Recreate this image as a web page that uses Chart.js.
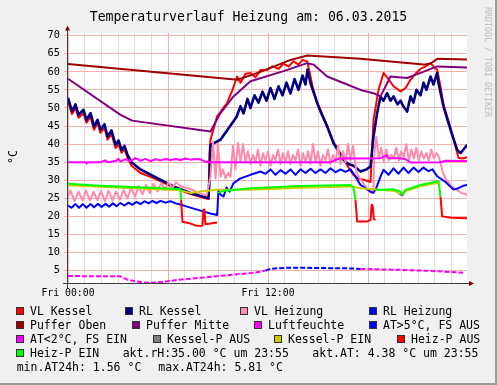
<!DOCTYPE html>
<html><head><meta charset="utf-8">
<script src="https://cdn.jsdelivr.net/npm/chart.js@4/dist/chart.umd.min.js"></script>
<style>
html,body{margin:0;padding:0;background:#F0F0F0;}
#wrap{position:relative;width:497px;height:385px;overflow:hidden;}
#c{position:absolute;left:0;top:0;}
.t{position:absolute;font-family:'DejaVu Sans Mono',monospace;white-space:pre;color:#000;}
.sw{position:absolute;width:8px;height:8px;box-sizing:border-box;border:1px solid #333;}
</style></head>
<body><div id="wrap"><canvas id="c" width="497" height="385" style="width:497px;height:385px"></canvas></div>
<script>
// ---------------- data ----------------
const titleText = 'Temperaturverlauf Heizung am: 06.03.2015';
const yAxisTitle = '°C';
const watermark = 'RRDTOOL / TOBI OETIKER';
const xTickHours = [0, 12];
const xTickLabels = ['Fri 00:00', 'Fri 12:00'];
const yTickValues = [5,10,15,20,25,30,35,40,45,50,55,60,65,70];

const vlKesselT = [0,0.24,0.45,0.63,0.93,1.11,1.35,1.56,1.77,1.95,2.19,2.37,2.61,2.85,3.03,3.21,3.39,3.57,3.81,4.35,5.13,6.33,7.35,8.25,8.43,8.49,8.55,8.95,9.55,9.87,10.15,10.35,10.65,10.95,11.25,11.55,11.95,12.27,12.63,12.93,13.23,13.53,13.83,14.07,14.35,14.49,14.67,14.95,15.15,15.55,15.93,16.23,16.53,16.83,17.13,17.43,17.85,18.15,18.33,18.63,18.93,19.23,19.53,19.95,20.25,20.55,20.85,21.15,21.45,21.75,21.93,22.15,22.35,22.53,22.95,23.43,23.67,23.95];
const vlKesselV = [51.8,48.3,50.0,47.3,48.5,45.9,47.6,44.0,45.8,43.1,44.5,41.2,42.8,38.9,40.0,37.6,38.6,36.2,34.0,32.0,30.6,28.0,26.2,25.0,24.8,38.0,41.2,47.7,51.4,55.0,58.7,57.0,59.5,59.7,58.5,60.5,60.6,61.5,60.8,62.3,61.5,62.9,62.0,63.3,62.9,60.0,56.0,51.4,49.5,45.0,40.5,38.3,36.0,33.5,31.5,30.5,30.0,29.5,46.7,55.0,59.7,58.0,56.0,54.6,55.5,57.8,59.5,60.8,61.5,62.4,61.5,60.6,56.0,51.0,44.5,36.2,36.0,36.4];

const rlKesselT = [0,0.24,0.45,0.63,0.93,1.11,1.35,1.56,1.77,1.95,2.19,2.37,2.61,2.85,3.03,3.21,3.39,3.57,3.81,4.35,5.13,6.33,7.35,8.43,8.49,8.55,9.15,9.93,10.11,10.35,10.53,10.77,10.95,11.19,11.43,11.67,11.91,12.15,12.39,12.63,12.87,13.11,13.35,13.59,13.83,14.07,14.25,14.37,14.55,14.95,15.15,15.55,15.93,16.23,16.53,16.83,17.13,17.55,17.91,18.15,18.33,18.55,18.75,18.93,19.15,19.35,19.53,19.77,19.95,20.13,20.35,20.55,20.73,20.91,21.15,21.33,21.51,21.75,21.93,22.15,22.23,22.53,22.95,23.35,23.55,23.73,23.95];
const rlKesselV = [52.8,49.1,51.0,48.1,49.5,46.7,48.6,44.9,46.7,44.0,45.5,42.1,43.8,39.8,41.0,38.4,39.5,37.0,35.0,33.0,31.1,28.3,26.5,25.0,30.1,39.8,41.2,46.3,47.5,50.5,48.5,52.5,50.0,53.5,51.5,54.5,52.0,55.5,52.5,56.0,53.5,57.0,54.0,58.0,55.0,59.0,56.5,60.6,56.9,51.4,49.0,44.9,40.3,38.0,35.7,34.5,34.0,32.4,33.0,33.8,42.1,48.6,53.2,52.0,54.1,52.0,53.2,51.0,52.0,50.4,49.0,53.2,51.5,55.0,53.5,57.0,55.0,58.7,56.5,59.7,56.9,50.4,44.0,38.4,37.5,38.5,39.8];

const vlHeizungT = [0,0.15,0.39,0.63,0.87,1.08,1.32,1.53,1.77,1.98,2.22,2.43,2.67,2.88,3.12,3.33,3.57,3.78,4.02,4.23,4.47,4.68,4.92,5.13,5.37,5.58,5.82,6.03,6.27,6.48,6.75,7.35,7.95,8.31,
 8.55,8.7,8.85,9.0,9.15,9.3,9.45,9.6,9.75,9.9,10.05,10.2,10.35,10.5,10.65,10.8,10.95,11.1,11.25,11.4,11.55,11.7,11.85,12.0,12.15,12.3,12.45,12.6,12.75,12.9,13.05,13.2,13.35,13.5,13.65,13.8,13.95,14.1,14.25,14.4,14.55,14.7,14.85,15.0,15.15,15.3,15.45,15.6,15.75,15.9,16.05,16.2,16.35,16.5,16.65,16.8,16.95,17.1,
 17.31,17.67,17.97,18.21,18.33,18.39,
 18.5,18.65,18.8,18.95,19.1,19.25,19.4,19.55,19.7,19.85,20.0,20.15,20.3,20.45,20.6,20.75,20.9,21.05,21.2,21.35,21.5,21.65,21.8,21.95,22.1,22.25,22.5,22.7,23.0,23.3,23.6,23.95];
const vlHeizungV = [25.5,27.1,24.2,26.9,24.4,27.2,24.3,26.8,24.5,27.0,24.2,27.1,24.4,26.9,24.6,27.3,25.0,27.9,25.4,28.4,26.1,28.7,26.4,29.1,26.9,29.2,27.4,29.5,27.9,29.4,28.4,27.5,26.3,25.8,
 31,40.5,30.5,40,31,33,30.5,32,31,39.5,33,40.3,35,40,35,38,34.5,37,35,38.5,34,37.5,35.5,38,34,37,35.5,38.5,34.5,37.5,35,38,34.5,37,35.5,38.5,34,37.5,35,38,34.5,40,35,38,34,37,35.5,38.5,34.5,37,35,39.5,34.5,38,35,40,35.5,39.5,
 32,29.5,27.5,26.5,28,38,
 42,36,39,35,38.5,35.5,37,36,39,35.5,38,36.5,40,35.5,38.5,36,39,35.5,38,36,37.5,35.5,38.5,36,37.5,36.6,32,30.1,28.5,27.4,26.5,26.0];

const rlHeizungT = [0,0.21,0.45,0.66,0.9,1.11,1.35,1.56,1.8,2.01,2.25,2.46,2.7,2.91,3.15,3.39,3.63,3.87,4.11,4.35,4.59,4.83,5.07,5.31,5.55,5.85,6.15,6.45,6.75,7.15,7.95,8.55,8.95,9.03,9.15,9.33,9.51,9.69,9.93,10.35,10.95,11.55,11.85,12.15,12.45,12.75,13.05,13.35,13.65,13.95,14.25,14.55,14.85,15.15,15.45,15.75,16.05,16.35,16.65,16.95,17.25,17.55,17.85,18.15,18.33,18.51,18.75,18.93,19.23,19.53,19.83,20.13,20.43,20.73,21.03,21.33,21.63,21.87,22.15,22.65,23.13,23.43,23.73,23.95];
const rlHeizungV = [23,22.4,23.4,22.4,23.4,22.4,23.4,22.5,23.5,22.6,23.5,22.7,23.6,22.8,23.7,23.0,23.8,23.2,24.0,23.4,24.2,23.6,24.3,23.7,24.3,23.8,24.2,23.6,23.3,22.7,21.6,20.8,20.4,27.4,26,25.5,28,26.8,29.2,30.5,31.5,32.4,31.8,33,31.5,32.8,31.8,33,31.5,33,32,33.2,32,33,32,33.3,32.2,33,32.3,33,31,28.7,27.8,26.8,26.5,28,31,32.9,31.5,33.3,31.8,33.5,32,33.5,32.3,33.5,32.5,33,31.1,29.5,27.4,27.8,28.5,28.7];

const pufferObenT = [0,10.17,11.55,13.35,14.37,17.55,21.33,21.75,22.17,23.95];
const pufferObenV = [62.2,57.8,60.0,63.3,64.5,63.6,62.0,62.3,63.6,63.4];

const pufferMitteT = [0,3.15,3.85,8.55,9.15,9.93,10.95,12.93,14.35,14.73,15.55,16.53,17.55,18.33,18.75,19.35,20.35,21.15,22.15,23.95];
const pufferMitteV = [58.1,48.1,46.5,43.5,48.6,53.2,57.4,60.2,62.4,62.0,58.7,56.9,55.0,54.1,53.2,58.7,58.3,59.7,61.5,61.2];

const luftT = [0,1.05,1.11,1.17,1.95,2.25,2.37,2.85,3.03,3.15,3.45,3.75,4.05,4.35,4.65,4.95,5.25,5.55,5.85,6.15,6.45,6.75,7.05,7.35,7.65,7.95,8.25,8.55,15.75,16.05,16.35,17.55,18.75,19.11,19.23,19.95,20.25,20.55,22.35,22.65,23.95];
const luftV = [35,35,34.6,35,35,35.5,35,35.3,35.9,35.2,35.8,35.3,36.1,35.4,35.9,35.3,35.8,35.5,35.9,35.6,35.9,35.6,36.0,35.7,35.9,35.8,35.1,35.0,35.0,35.6,36.1,36.0,36.1,36.9,36.1,36.1,35.8,34.9,35.0,35.4,35.3];

const atHighT = [11.85,12.15,13.05,13.95,15.15,16.95,17.55];
const atHighV = [5.0,5.5,5.75,5.8,5.7,5.6,5.45];
const atLowT = [0,1.95,3.15,3.55,4.05,4.75,5.55,6.55,7.95,9.75,10.95,11.55,11.85,14.0,17.55,19.95,21.75,23.7];
const atLowV = [3.5,3.4,3.4,2.5,2.0,1.6,1.8,2.4,3.0,3.8,4.3,4.7,5.0,null,5.45,5.2,4.9,4.4];

const kesselAusT = [19.89,19.95,20.07,20.13];
const kesselAusV = [26.3,26.0,25.8,26.2];
const kesselEinT = [0,1.95,4.95,6.75,7.35,7.95,8.95,10.95,13.95,16.95,17.55,18.75,19.65,19.89,19.95,20.13,20.25,21.15,22.05,22.23];
const kesselEinV = [28.6,28.2,27.6,27.2,26.5,26.9,27.4,27.4,27.9,28.3,27.8,27.4,27.0,26.3,null,26.2,27.0,28.3,29.2,29.2];

const heizAusT = [6.78,6.87,7.35,7.65,7.95,8.07,8.13,8.19,8.25,8.55,8.95,9.0,17.25,17.35,17.95,18.15,18.22,18.28,18.35,18.45,18.5,22.35,22.45,23.0,23.95];
const heizAusV = [24.5,18.5,18.0,17.5,17.3,17.5,21.8,21.8,17.8,18.0,18.3,null,24.5,18.6,18.6,19.0,23.2,23.0,19.3,19.0,null,25.5,20.0,19.6,19.5];
const heizEinT = [0,1.95,4.95,6.63,6.75,6.78,7.0,9.0,9.3,10.95,13.95,16.95,17.13,17.25,17.8,18.45,19.5,19.95,20.07,20.25,21.15,22.05,22.23,22.35];
const heizEinV = [29.0,28.5,27.9,27.6,27.5,24.5,null,26.5,27.0,27.8,28.4,28.7,28.0,24.5,null,27.3,27.5,26.8,26.2,27.3,28.7,29.6,29.7,25.5];

const seriesNames = ['VL Kessel','RL Kessel','VL Heizung','RL Heizung','Puffer Oben','Puffer Mitte','Luftfeuchte','AT>5°C, FS AUS','AT<2°C, FS EIN','Kessel-P AUS','Kessel-P EIN','Heiz-P AUS','Heiz-P EIN'];
const infoTexts = ['akt.rH:35.00 °C um 23:55','akt.AT: 4.38 °C um 23:55','min.AT24h: 1.56 °C','max.AT24h: 5.81 °C'];

// ---------------- styles ----------------
const seriesColors = ['#FF0000','#000080','#FF8AAA','#0000FF','#A00000','#800080','#FF00FF','#0000FF','#FF00FF','#808080','#CCCC00','#FF0000','#00FF00'];
const seriesWidths = [2,2.6,2,2,2,2,2,2,2,2,2,2,2];
const seriesDash = [[],[],[],[],[],[],[],[5,2],[5,2],[],[],[],[]];
const seriesT = [vlKesselT,rlKesselT,vlHeizungT,rlHeizungT,pufferObenT,pufferMitteT,luftT,atHighT,atLowT,kesselAusT,kesselEinT,heizAusT,heizEinT];
const seriesV = [vlKesselV,rlKesselV,vlHeizungV,rlHeizungV,pufferObenV,pufferMitteV,luftV,atHighV,atLowV,kesselAusV,kesselEinV,heizAusV,heizEinV];

// legend layout (swatch left x, row centre y)
const legendPos = [[16,311],[125,311],[240,311],[369,311],[16,325],[132,325],[254,325],[369,325],[16,339],[153,339],[274,339],[397,339],[16,353]];
const infoPos = [[122.7,353],[312.3,353],[16.7,367],[158.3,367]];

function pts(T,V){const n=Math.min(T.length,V.length);const o=[];for(let i=0;i<n;i++)o.push({x:T[i],y:V[i]});return o;}

const N = seriesNames.length;
const datasets = seriesNames.map((name,i)=>({
  label:name, data:pts(seriesT[i],seriesV[i]), borderColor:seriesColors[i], backgroundColor:seriesColors[i],
  borderWidth:seriesWidths[i], borderDash:seriesDash[i], pointRadius:0, tension:0, fill:false, spanGaps:false,
  borderJoinStyle:'round', order:N-i
}));

const RED='#F4B0B0', GRAY='#DCDCDC';
const FONT="'DejaVu Sans Mono', monospace";

const decor = {
  id:'decor',
  beforeDraw(chart){
    const c=chart.ctx,a=chart.chartArea,W=chart.width,H=chart.height;
    c.save();
    c.fillStyle='#F0F0F0';c.fillRect(0,0,W,H);
    c.fillStyle='#9C9C9C';c.fillRect(W-2,0,2,H);c.fillRect(0,H-2,W,2);
    c.fillStyle='#FFFFFF';c.fillRect(a.left,a.top,a.right-a.left,a.bottom-a.top);
    c.restore();
  },
  afterDraw(chart){
    const c=chart.ctx,a=chart.chartArea;
    c.save();
    c.strokeStyle='#404040';c.lineWidth=1;
    c.beginPath();
    c.moveTo(a.left+0.5,a.bottom+5);c.lineTo(a.left+0.5,a.top-3);
    c.moveTo(a.left-4,a.bottom+0.5);c.lineTo(a.right+3,a.bottom+0.5);
    c.stroke();
    c.fillStyle='#7F0000';
    c.beginPath();c.moveTo(a.left+0.5,a.top-7.5);c.lineTo(a.left-2,a.top-2.5);c.lineTo(a.left+3,a.top-2.5);c.closePath();c.fill();
    c.beginPath();c.moveTo(a.right+7,a.bottom+0.5);c.lineTo(a.right+2,a.bottom-2);c.lineTo(a.right+2,a.bottom+3);c.closePath();c.fill();
    c.restore();
  }
};

Chart.defaults.font.family = FONT;
new Chart(document.getElementById('c'),{
  type:'line',
  data:{datasets},
  options:{
    responsive:false, animation:false, devicePixelRatio:1,
    layout:{padding:{left:0,top:33,right:30,bottom:82}},
    plugins:{legend:{display:false},tooltip:{enabled:false},title:{display:false}},
    scales:{
      x:{type:'linear',min:-0.06,max:23.94,
        afterBuildTicks:s=>{const t=[];for(let h=0;h<24;h++)t.push({value:h});s.ticks=t;},
        afterFit:s=>{s.height=20;},
        ticks:{autoSkip:false,maxRotation:0,minRotation:0,padding:5,color:'#000',font:{family:FONT,size:9.8},
          callback:(v)=>{const i=xTickHours.indexOf(v);return i>=0?xTickLabels[i]:'';}},
        grid:{color:(ctx)=>(ctx.tick&&ctx.tick.value%6===0)?RED:GRAY,drawTicks:false,lineWidth:1},
        border:{display:false}
      },
      y:{type:'linear',min:1.56,max:70.75,
        afterBuildTicks:s=>{s.ticks=yTickValues.map(v=>({value:v}));},
        afterFit:s=>{s.width=67;},
        ticks:{padding:4,color:'#000',font:{family:FONT,size:10.3},callback:(v)=>String(v)},
        grid:{color:RED,drawTicks:true,tickLength:3,tickColor:RED,lineWidth:1},
        border:{display:false}
      }
    }
  },
  plugins:[decor]
});

// ---------------- text overlays ----------------
const wrap=document.getElementById('wrap');
function addText(txt,left,cy,size,extra){
  const d=document.createElement('div');d.className='t';d.textContent=txt;
  d.style.left=left+'px';d.style.top=(cy-7)+'px';d.style.height='14px';d.style.lineHeight='14px';d.style.fontSize=size+'px';
  if(extra)Object.assign(d.style,extra);wrap.appendChild(d);return d;
}
// title
addText(titleText,0,16.5,13.2,{width:'497px',textAlign:'center'});
// y axis title
addText(yAxisTitle,-2,157,11.5,{width:'30px',textAlign:'center',transform:'rotate(-90deg)'});
// watermark
addText(watermark,427.5,62,8.3,{width:'120px',textAlign:'center',transform:'rotate(90deg)',color:'#BBBBBB'});
// legend
seriesNames.forEach((name,i)=>{
  const [x,y]=legendPos[i];
  const s=document.createElement('div');s.className='sw';s.style.left=x+'px';s.style.top=(y-4)+'px';s.style.background=seriesColors[i];wrap.appendChild(s);
  addText(name,x+14,y,11.5);
});
infoTexts.forEach((t,i)=>{const [x,y]=infoPos[i];addText(t,x,y,11.5);});
</script>
</body></html>
